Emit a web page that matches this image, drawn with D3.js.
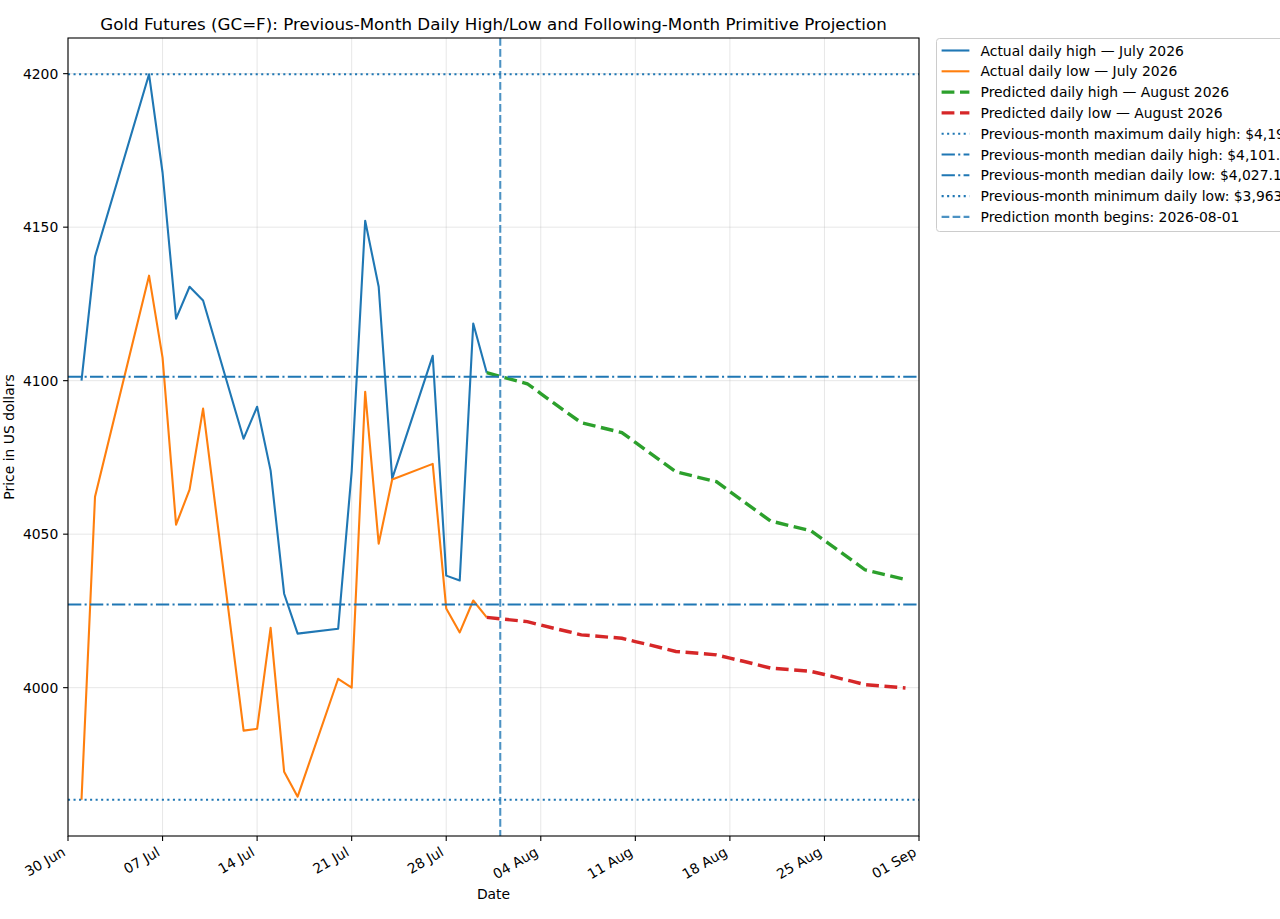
<!DOCTYPE html>
<html>
<head>
<meta charset="utf-8">
<script src="https://cdn.jsdelivr.net/npm/d3@7"></script>
<style>
  body { margin: 0; background: #fff; }
  text { font-family: "DejaVu Sans", sans-serif; }
</style>
</head>
<body>
<script>
// July 2026 actual trading days
var julyDates = ["2026-07-01","2026-07-02","2026-07-06","2026-07-07","2026-07-08","2026-07-09","2026-07-10",
  "2026-07-13","2026-07-14","2026-07-15","2026-07-16","2026-07-17",
  "2026-07-20","2026-07-21","2026-07-22","2026-07-23","2026-07-24",
  "2026-07-27","2026-07-28","2026-07-29","2026-07-30","2026-07-31"];
var julyHigh = [4100.0,4140.4,4199.8,4167.8,4120.2,4130.6,4126.1,
  4081.1,4091.5,4070.7,4030.6,4017.6,
  4019.2,4070.4,4152.1,4130.6,4068.1,
  4108.1,4036.5,4034.9,4118.6,4102.6];
var julyLow = [3963.5,4062.2,4134.2,4107.5,4053.1,4064.5,4090.9,
  3986.0,3986.6,4019.5,3972.6,3964.5,
  4002.9,4000.0,4096.4,4046.9,4067.8,
  4072.9,4025.8,4018.0,4028.4,4022.9];

// August 2026 projection
var augDates = ["2026-08-03","2026-08-04","2026-08-05","2026-08-06","2026-08-07",
  "2026-08-10","2026-08-11","2026-08-12","2026-08-13","2026-08-14",
  "2026-08-17","2026-08-18","2026-08-19","2026-08-20","2026-08-21",
  "2026-08-24","2026-08-25","2026-08-26","2026-08-27","2026-08-28","2026-08-31"];
var augHigh = [4099.0,4095.8,4092.6,4089.4,4086.3,
  4083.1,4079.9,4076.7,4073.5,4070.3,
  4067.1,4063.9,4060.7,4057.5,4054.3,
  4051.1,4047.9,4044.8,4041.6,4038.4,4035.2];
var augLow = [4021.5,4020.4,4019.3,4018.3,4017.2,
  4016.1,4015.0,4014.0,4012.9,4011.8,
  4010.7,4009.6,4008.6,4007.5,4006.4,
  4005.3,4004.3,4003.2,4002.1,4001.0,3999.9];

var xTicks = ["2026-06-30","2026-07-07","2026-07-14","2026-07-21","2026-07-28",
  "2026-08-04","2026-08-11","2026-08-18","2026-08-25","2026-09-01"];
var yTicks = [4000, 4050, 4100, 4150, 4200];
var xRange = ["2026-06-30", "2026-09-01"];
var predStart = "2026-08-01";

var W = 1280, H = 919;
var m = {left: 68, right: 919, top: 38, bottom: 836};

var svg = d3.select("body").append("svg")
  .attr("width", W).attr("height", H);

function day(s) { return new Date(s + "T00:00:00Z"); }

var x = d3.scaleUtc()
  .domain(xRange.map(day))
  .range([m.left, m.right]);

var allY = julyHigh.concat(julyLow, augHigh, augLow);
var lo = d3.min(allY), hi = d3.max(allY), pad = (hi - lo) * 0.05;
var y = d3.scaleLinear()
  .domain([lo - pad, hi + pad])
  .range([m.bottom, m.top]);

var maxHigh = d3.max(julyHigh);
var medHigh = d3.median(julyHigh);
var medLow = d3.median(julyLow);
var minLow = d3.min(julyLow);

var blue = "#1f77b4", orange = "#ff7f0e", green = "#2ca02c", red = "#d62728";
var fmt = d3.format("$,.2f");

// grid
var grid = svg.append("g");
grid.selectAll("line.gx").data(xTicks).enter().append("line")
  .attr("x1", function(d) { return x(day(d)); })
  .attr("x2", function(d) { return x(day(d)); })
  .attr("y1", m.top).attr("y2", m.bottom)
  .attr("stroke", "#b0b0b0").attr("stroke-opacity", 0.3).attr("stroke-width", 1);
grid.selectAll("line.gy").data(yTicks).enter().append("line")
  .attr("x1", m.left).attr("x2", m.right)
  .attr("y1", function(d) { return y(d); })
  .attr("y2", function(d) { return y(d); })
  .attr("stroke", "#b0b0b0").attr("stroke-opacity", 0.3).attr("stroke-width", 1);

var plot = svg.append("g");

var line = d3.line()
  .x(function(d) { return x(d[0]); })
  .y(function(d) { return y(d[1]); });

var julyD = julyDates.map(day);
var augD = augDates.map(day);
var lastI = julyD.length - 1;

plot.append("path")
  .datum(julyD.map(function(d, i) { return [d, julyHigh[i]]; }))
  .attr("d", line).attr("fill", "none").attr("stroke", blue)
  .attr("stroke-width", 2.1).attr("stroke-linejoin", "round");
plot.append("path")
  .datum(julyD.map(function(d, i) { return [d, julyLow[i]]; }))
  .attr("d", line).attr("fill", "none").attr("stroke", orange)
  .attr("stroke-width", 2.1).attr("stroke-linejoin", "round");

plot.append("path")
  .datum([[julyD[lastI], julyHigh[lastI]]].concat(augD.map(function(d, i) { return [d, augHigh[i]]; })))
  .attr("d", line).attr("fill", "none").attr("stroke", green)
  .attr("stroke-width", 3.4).attr("stroke-dasharray", "12.8,5.6");
plot.append("path")
  .datum([[julyD[lastI], julyLow[lastI]]].concat(augD.map(function(d, i) { return [d, augLow[i]]; })))
  .attr("d", line).attr("fill", "none").attr("stroke", red)
  .attr("stroke-width", 3.4).attr("stroke-dasharray", "12.8,5.6");

// reference lines
var refs = [
  {v: maxHigh, dash: "2.08,3.44"},
  {v: medHigh, dash: "13.3,3.3,2.08,3.3"},
  {v: medLow, dash: "13.3,3.3,2.08,3.3"},
  {v: minLow, dash: "2.08,3.44"}
];
plot.selectAll("line.ref").data(refs).enter().append("line")
  .attr("x1", m.left).attr("x2", m.right)
  .attr("y1", function(d) { return y(d.v); })
  .attr("y2", function(d) { return y(d.v); })
  .attr("stroke", blue).attr("stroke-width", 2.08)
  .attr("stroke-dasharray", function(d) { return d.dash; });

plot.append("line")
  .attr("x1", x(day(predStart))).attr("x2", x(day(predStart)))
  .attr("y1", m.top).attr("y2", m.bottom)
  .attr("stroke", blue).attr("stroke-opacity", 0.8).attr("stroke-width", 2.08)
  .attr("stroke-dasharray", "7.7,3.3");

// frame
svg.append("rect")
  .attr("x", m.left).attr("y", m.top)
  .attr("width", m.right - m.left).attr("height", m.bottom - m.top)
  .attr("fill", "none").attr("stroke", "#000").attr("stroke-width", 1.1);

// x axis ticks
var fmtX = d3.utcFormat("%d %b");
var xt = svg.append("g").selectAll("g").data(xTicks).enter().append("g");
xt.append("line")
  .attr("x1", function(d) { return x(day(d)); })
  .attr("x2", function(d) { return x(day(d)); })
  .attr("y1", m.bottom).attr("y2", m.bottom + 4.9)
  .attr("stroke", "#000").attr("stroke-width", 1.1);
xt.append("text")
  .attr("transform", function(d) {
    return "translate(" + (x(day(d)) - 1.6) + "," + (m.bottom + 18.8) + ") rotate(-30)";
  })
  .attr("text-anchor", "end")
  .attr("font-size", "13.9px")
  .attr("fill", "#000")
  .text(function(d) { return fmtX(day(d)); });

// y axis ticks
var yt = svg.append("g").selectAll("g").data(yTicks).enter().append("g");
yt.append("line")
  .attr("x1", m.left - 4.9).attr("x2", m.left)
  .attr("y1", function(d) { return y(d); })
  .attr("y2", function(d) { return y(d); })
  .attr("stroke", "#000").attr("stroke-width", 1.1);
yt.append("text")
  .attr("x", m.left - 9.7)
  .attr("y", function(d) { return y(d); })
  .attr("dy", "0.36em")
  .attr("text-anchor", "end")
  .attr("font-size", "13.9px")
  .text(function(d) { return d; });

// labels
svg.append("text")
  .attr("x", (m.left + m.right) / 2).attr("y", 30)
  .attr("text-anchor", "middle").attr("font-size", "16.7px")
  .text("Gold Futures (GC=F): Previous-Month Daily High/Low and Following-Month Primitive Projection");
svg.append("text")
  .attr("x", (m.left + m.right) / 2).attr("y", 899)
  .attr("text-anchor", "middle").attr("font-size", "13.9px")
  .text("Date");
svg.append("text")
  .attr("transform", "translate(14," + ((m.top + m.bottom) / 2) + ") rotate(-90)")
  .attr("text-anchor", "middle").attr("font-size", "13.9px")
  .text("Price in US dollars");

// legend
var legendItems = [
  {label: "Actual daily high \u2014 July 2026", color: blue, w: 2.1, dash: null, op: 1},
  {label: "Actual daily low \u2014 July 2026", color: orange, w: 2.1, dash: null, op: 1},
  {label: "Predicted daily high \u2014 August 2026", color: green, w: 3.4, dash: "12.8,5.6", op: 1},
  {label: "Predicted daily low \u2014 August 2026", color: red, w: 3.4, dash: "12.8,5.6", op: 1},
  {label: "Previous-month maximum daily high: " + fmt(maxHigh), color: blue, w: 2.08, dash: "2.08,3.44", op: 1},
  {label: "Previous-month median daily high: " + fmt(medHigh), color: blue, w: 2.08, dash: "13.3,3.3,2.08,3.3", op: 1},
  {label: "Previous-month median daily low: " + fmt(medLow), color: blue, w: 2.08, dash: "13.3,3.3,2.08,3.3", op: 1},
  {label: "Previous-month minimum daily low: " + fmt(minLow), color: blue, w: 2.08, dash: "2.08,3.44", op: 1},
  {label: "Prediction month begins: " + predStart, color: blue, w: 2.08, dash: "7.7,3.3", op: 0.8}
];
var lg = svg.append("g").attr("transform", "translate(936,38)");
lg.append("rect")
  .attr("x", 0.5).attr("y", 0.5).attr("rx", 3).attr("ry", 3)
  .attr("width", 420).attr("height", 193)
  .attr("fill", "#fff").attr("fill-opacity", 0.8)
  .attr("stroke", "#cccccc").attr("stroke-width", 1);
var li = lg.selectAll("g.item").data(legendItems).enter().append("g")
  .attr("transform", function(d, i) { return "translate(0," + (12.5 + i * 20.8) + ")"; });
li.append("line")
  .attr("x1", 5.6).attr("x2", 33.4).attr("y1", 0).attr("y2", 0)
  .attr("stroke", function(d) { return d.color; })
  .attr("stroke-opacity", function(d) { return d.op; })
  .attr("stroke-width", function(d) { return d.w; })
  .attr("stroke-dasharray", function(d) { return d.dash; });
li.append("text")
  .attr("x", 44.5).attr("y", 0).attr("dy", "0.36em")
  .attr("font-size", "13.9px")
  .text(function(d) { return d.label; });
</script>
</body>
</html>
